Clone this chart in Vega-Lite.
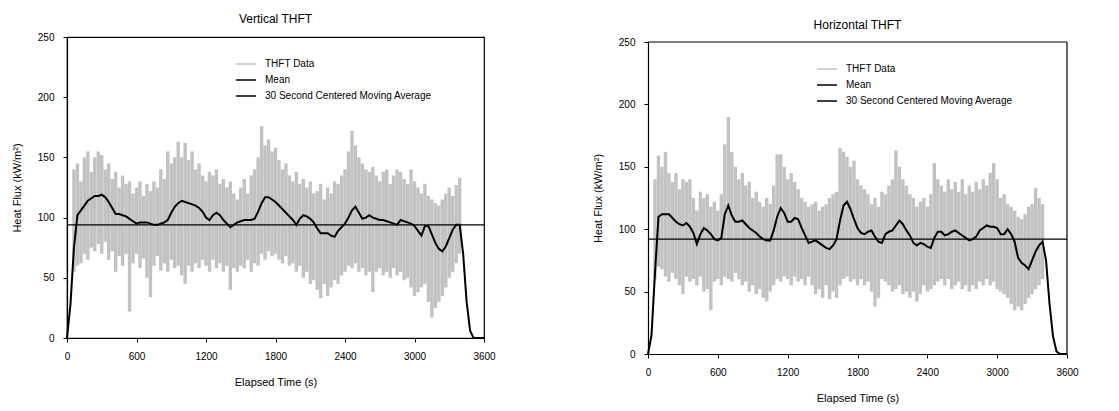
{
  "$schema": "https://vega.github.io/schema/vega-lite/v6.json",
  "background": "white",
  "padding": {"left": 10, "top": 12, "right": 5, "bottom": 5},
  "spacing": 96,
  "config": {
    "font": "Liberation Sans",
    "view": {"stroke": "black", "strokeWidth": 1.2},
    "axis": {"grid": false, "domainColor": "black", "domainWidth": 1.2, "tickColor": "black", "tickSize": 4, "labelColor": "black", "labelFontSize": 10, "titleColor": "black", "titleFontSize": 11, "titleFontWeight": "normal", "labelFlush": false, "labelOverlap": false},
    "axisX": {"labelPadding": 9, "titlePadding": 15, "format": "d"},
    "axisY": {"labelPadding": 9, "titlePadding": 15},
    "title": {"fontSize": 12, "fontWeight": "normal", "color": "black", "offset": 6},
    "legend": {"orient": "none", "legendX": 168, "legendY": 16, "title": null, "symbolType": "stroke", "symbolSize": 400, "symbolStrokeWidth": 1.5, "labelFontSize": 10, "labelColor": "black", "rowPadding": -5, "labelOffset": 8, "labelLimit": 0}
  },
  "resolve": {"scale": {"color": "independent"}, "legend": {"color": "independent"}},
  "hconcat": [
    {
      "title": {"text": "Vertical THFT"},
      "width": 417,
      "height": 301,
      "layer": [
        {
          "data": {"values": [
            {"t":0,"ma":0},{"t":30,"ma":28},
            {"t":60,"lo":55,"hi":140,"ma":75},{"t":90,"lo":60,"hi":145,"ma":102},{"t":120,"lo":62,"hi":130,"ma":106},{"t":150,"lo":70,"hi":150,"ma":110},{"t":180,"lo":65,"hi":155,"ma":114},{"t":210,"lo":75,"hi":138,"ma":116},{"t":240,"lo":72,"hi":150,"ma":118},{"t":270,"lo":78,"hi":155,"ma":118},{"t":300,"lo":70,"hi":152,"ma":119},{"t":330,"lo":80,"hi":140,"ma":117},{"t":360,"lo":65,"hi":145,"ma":113},{"t":390,"lo":72,"hi":132,"ma":108},{"t":420,"lo":55,"hi":138,"ma":103},{"t":450,"lo":68,"hi":125,"ma":103},{"t":480,"lo":60,"hi":135,"ma":102},{"t":510,"lo":70,"hi":128,"ma":101},{"t":540,"lo":22,"hi":130,"ma":99},{"t":570,"lo":62,"hi":120,"ma":97},{"t":600,"lo":70,"hi":125,"ma":95},{"t":630,"lo":58,"hi":130,"ma":96},{"t":660,"lo":66,"hi":118,"ma":96},{"t":690,"lo":50,"hi":128,"ma":96},{"t":720,"lo":34,"hi":122,"ma":95},{"t":750,"lo":60,"hi":130,"ma":94},{"t":780,"lo":68,"hi":125,"ma":94},{"t":810,"lo":56,"hi":140,"ma":95},{"t":840,"lo":62,"hi":132,"ma":96},{"t":870,"lo":55,"hi":155,"ma":98},{"t":900,"lo":65,"hi":145,"ma":104},{"t":930,"lo":58,"hi":150,"ma":109},{"t":960,"lo":60,"hi":163,"ma":112},{"t":990,"lo":52,"hi":150,"ma":114},{"t":1020,"lo":45,"hi":162,"ma":113},{"t":1050,"lo":60,"hi":148,"ma":112},{"t":1080,"lo":55,"hi":155,"ma":111},{"t":1110,"lo":62,"hi":140,"ma":110},{"t":1140,"lo":58,"hi":145,"ma":108},{"t":1170,"lo":65,"hi":135,"ma":105},{"t":1200,"lo":60,"hi":130,"ma":100},{"t":1230,"lo":55,"hi":138,"ma":98},{"t":1260,"lo":65,"hi":135,"ma":102},{"t":1290,"lo":58,"hi":140,"ma":104},{"t":1320,"lo":62,"hi":128,"ma":102},{"t":1350,"lo":55,"hi":132,"ma":98},{"t":1380,"lo":60,"hi":125,"ma":95},{"t":1410,"lo":40,"hi":130,"ma":92},{"t":1440,"lo":58,"hi":120,"ma":94},{"t":1470,"lo":55,"hi":115,"ma":96},{"t":1500,"lo":60,"hi":125,"ma":97},{"t":1530,"lo":58,"hi":132,"ma":98},{"t":1560,"lo":65,"hi":120,"ma":98},{"t":1590,"lo":55,"hi":135,"ma":98},{"t":1620,"lo":62,"hi":140,"ma":99},{"t":1650,"lo":60,"hi":150,"ma":105},{"t":1680,"lo":70,"hi":176,"ma":112},{"t":1710,"lo":65,"hi":160,"ma":117},{"t":1740,"lo":72,"hi":165,"ma":117},{"t":1770,"lo":68,"hi":155,"ma":115},{"t":1800,"lo":70,"hi":158,"ma":113},{"t":1830,"lo":65,"hi":148,"ma":110},{"t":1860,"lo":62,"hi":140,"ma":107},{"t":1890,"lo":68,"hi":145,"ma":104},{"t":1920,"lo":60,"hi":135,"ma":101},{"t":1950,"lo":62,"hi":130,"ma":98},{"t":1980,"lo":55,"hi":138,"ma":94},{"t":2010,"lo":60,"hi":128,"ma":99},{"t":2040,"lo":50,"hi":132,"ma":102},{"t":2070,"lo":55,"hi":125,"ma":101},{"t":2100,"lo":45,"hi":130,"ma":99},{"t":2130,"lo":48,"hi":120,"ma":96},{"t":2160,"lo":40,"hi":122,"ma":91},{"t":2190,"lo":33,"hi":128,"ma":87},{"t":2220,"lo":45,"hi":115,"ma":87},{"t":2250,"lo":35,"hi":125,"ma":87},{"t":2280,"lo":42,"hi":120,"ma":85},{"t":2310,"lo":48,"hi":130,"ma":84},{"t":2340,"lo":45,"hi":128,"ma":89},{"t":2370,"lo":52,"hi":135,"ma":92},{"t":2400,"lo":55,"hi":140,"ma":95},{"t":2430,"lo":60,"hi":155,"ma":100},{"t":2460,"lo":58,"hi":172,"ma":106},{"t":2490,"lo":62,"hi":160,"ma":109},{"t":2520,"lo":55,"hi":150,"ma":104},{"t":2550,"lo":58,"hi":145,"ma":99},{"t":2580,"lo":52,"hi":140,"ma":100},{"t":2610,"lo":55,"hi":138,"ma":102},{"t":2640,"lo":38,"hi":142,"ma":100},{"t":2670,"lo":55,"hi":135,"ma":99},{"t":2700,"lo":58,"hi":130,"ma":98},{"t":2730,"lo":52,"hi":138,"ma":98},{"t":2760,"lo":55,"hi":140,"ma":97},{"t":2790,"lo":50,"hi":128,"ma":96},{"t":2820,"lo":58,"hi":135,"ma":95},{"t":2850,"lo":52,"hi":140,"ma":94},{"t":2880,"lo":55,"hi":138,"ma":98},{"t":2910,"lo":48,"hi":132,"ma":97},{"t":2940,"lo":50,"hi":128,"ma":96},{"t":2970,"lo":42,"hi":140,"ma":95},{"t":3000,"lo":35,"hi":130,"ma":93},{"t":3030,"lo":38,"hi":125,"ma":89},{"t":3060,"lo":42,"hi":120,"ma":85},{"t":3090,"lo":45,"hi":128,"ma":93},{"t":3120,"lo":30,"hi":118,"ma":93},{"t":3150,"lo":17,"hi":115,"ma":86},{"t":3180,"lo":25,"hi":112,"ma":79},{"t":3210,"lo":30,"hi":110,"ma":74},{"t":3240,"lo":35,"hi":115,"ma":72},{"t":3270,"lo":42,"hi":120,"ma":76},{"t":3300,"lo":50,"hi":125,"ma":83},{"t":3330,"lo":55,"hi":118,"ma":90},{"t":3360,"lo":62,"hi":127,"ma":94},{"t":3390,"lo":70,"hi":133,"ma":94},
            {"t":3420,"ma":70},{"t":3450,"ma":30},{"t":3480,"ma":6},{"t":3510,"ma":0},{"t":3540,"ma":0},{"t":3570,"ma":0},{"t":3600,"ma":0}
          ]},
          "layer": [
            {"mark": {"type": "rule", "strokeWidth": 3.4}, "encoding": {
              "x": {"field": "t", "type": "quantitative", "title": "Elapsed Time (s)", "scale": {"domain": [0, 3600], "nice": false}, "axis": {"values": [0, 600, 1200, 1800, 2400, 3000, 3600]}},
              "y": {"field": "lo", "type": "quantitative", "title": "Heat Flux (kW/m²)", "scale": {"domain": [0, 250], "nice": false}, "axis": {"values": [0, 50, 100, 150, 200, 250]}},
              "y2": {"field": "hi"},
              "color": {"datum": "THFT Data", "type": "nominal", "scale": {"domain": ["THFT Data", "Mean", "30 Second Centered Moving Average"], "range": ["#c2c2c2", "black", "black"]}}}},
            {"mark": {"type": "line", "strokeWidth": 2}, "encoding": {
              "x": {"field": "t", "type": "quantitative"},
              "y": {"field": "ma", "type": "quantitative"},
              "color": {"datum": "30 Second Centered Moving Average", "type": "nominal"}}}
          ]
        },
        {
          "data": {"values": [{"mean": 94}]},
          "mark": {"type": "rule", "strokeWidth": 1.3},
          "encoding": {"y": {"field": "mean", "type": "quantitative"}, "color": {"datum": "Mean", "type": "nominal"}}
        }
      ]
    },
    {
      "title": {"text": "Horizontal THFT", "offset": 5},
      "width": 419,
      "height": 317,
      "view": {"stroke": null},
      "layer": [
        {
          "data": {"values": [
            {"t":0,"ma":0},{"t":30,"ma":15},
            {"t":60,"lo":60,"hi":140,"ma":65},{"t":90,"lo":70,"hi":159,"ma":110},{"t":120,"lo":68,"hi":150,"ma":112},{"t":150,"lo":62,"hi":162,"ma":112},{"t":180,"lo":58,"hi":145,"ma":112},{"t":210,"lo":65,"hi":138,"ma":109},{"t":240,"lo":60,"hi":145,"ma":106},{"t":270,"lo":55,"hi":132,"ma":104},{"t":300,"lo":48,"hi":140,"ma":103},{"t":330,"lo":62,"hi":138,"ma":105},{"t":360,"lo":58,"hi":140,"ma":102},{"t":390,"lo":60,"hi":125,"ma":97},{"t":420,"lo":55,"hi":115,"ma":88},{"t":450,"lo":62,"hi":130,"ma":96},{"t":480,"lo":50,"hi":125,"ma":101},{"t":510,"lo":52,"hi":128,"ma":99},{"t":540,"lo":35,"hi":118,"ma":96},{"t":570,"lo":58,"hi":122,"ma":92},{"t":600,"lo":60,"hi":115,"ma":91},{"t":630,"lo":55,"hi":128,"ma":93},{"t":660,"lo":62,"hi":168,"ma":112},{"t":690,"lo":60,"hi":190,"ma":119},{"t":720,"lo":58,"hi":162,"ma":111},{"t":750,"lo":65,"hi":150,"ma":106},{"t":780,"lo":60,"hi":140,"ma":106},{"t":810,"lo":55,"hi":145,"ma":107},{"t":840,"lo":58,"hi":135,"ma":104},{"t":870,"lo":50,"hi":138,"ma":101},{"t":900,"lo":55,"hi":125,"ma":99},{"t":930,"lo":48,"hi":130,"ma":97},{"t":960,"lo":52,"hi":122,"ma":94},{"t":990,"lo":45,"hi":118,"ma":92},{"t":1020,"lo":42,"hi":125,"ma":91},{"t":1050,"lo":50,"hi":120,"ma":91},{"t":1080,"lo":55,"hi":135,"ma":99},{"t":1110,"lo":60,"hi":160,"ma":110},{"t":1140,"lo":58,"hi":160,"ma":117},{"t":1170,"lo":62,"hi":150,"ma":113},{"t":1200,"lo":60,"hi":140,"ma":106},{"t":1230,"lo":55,"hi":145,"ma":106},{"t":1260,"lo":62,"hi":138,"ma":109},{"t":1290,"lo":58,"hi":132,"ma":108},{"t":1320,"lo":60,"hi":125,"ma":101},{"t":1350,"lo":55,"hi":122,"ma":95},{"t":1380,"lo":62,"hi":118,"ma":89},{"t":1410,"lo":55,"hi":120,"ma":90},{"t":1440,"lo":48,"hi":122,"ma":91},{"t":1470,"lo":52,"hi":115,"ma":89},{"t":1500,"lo":45,"hi":118,"ma":87},{"t":1530,"lo":55,"hi":120,"ma":85},{"t":1560,"lo":44,"hi":125,"ma":84},{"t":1590,"lo":50,"hi":128,"ma":87},{"t":1620,"lo":45,"hi":130,"ma":92},{"t":1650,"lo":55,"hi":165,"ma":107},{"t":1680,"lo":60,"hi":162,"ma":119},{"t":1710,"lo":62,"hi":158,"ma":122},{"t":1740,"lo":58,"hi":150,"ma":116},{"t":1770,"lo":60,"hi":155,"ma":108},{"t":1800,"lo":55,"hi":140,"ma":101},{"t":1830,"lo":60,"hi":135,"ma":97},{"t":1860,"lo":55,"hi":132,"ma":96},{"t":1890,"lo":58,"hi":128,"ma":98},{"t":1920,"lo":50,"hi":120,"ma":99},{"t":1950,"lo":38,"hi":125,"ma":94},{"t":1980,"lo":45,"hi":118,"ma":90},{"t":2010,"lo":60,"hi":130,"ma":89},{"t":2040,"lo":58,"hi":128,"ma":96},{"t":2070,"lo":55,"hi":135,"ma":98},{"t":2100,"lo":50,"hi":140,"ma":99},{"t":2130,"lo":52,"hi":163,"ma":103},{"t":2160,"lo":55,"hi":150,"ma":107},{"t":2190,"lo":48,"hi":140,"ma":104},{"t":2220,"lo":50,"hi":135,"ma":99},{"t":2250,"lo":45,"hi":128,"ma":95},{"t":2280,"lo":50,"hi":125,"ma":89},{"t":2310,"lo":42,"hi":118,"ma":87},{"t":2340,"lo":48,"hi":122,"ma":89},{"t":2370,"lo":55,"hi":125,"ma":88},{"t":2400,"lo":50,"hi":118,"ma":86},{"t":2430,"lo":52,"hi":128,"ma":85},{"t":2460,"lo":55,"hi":153,"ma":93},{"t":2490,"lo":58,"hi":140,"ma":98},{"t":2520,"lo":60,"hi":135,"ma":98},{"t":2550,"lo":55,"hi":130,"ma":95},{"t":2580,"lo":60,"hi":140,"ma":96},{"t":2610,"lo":52,"hi":132,"ma":98},{"t":2640,"lo":55,"hi":138,"ma":99},{"t":2670,"lo":58,"hi":130,"ma":97},{"t":2700,"lo":52,"hi":140,"ma":95},{"t":2730,"lo":55,"hi":128,"ma":93},{"t":2760,"lo":50,"hi":135,"ma":91},{"t":2790,"lo":55,"hi":130,"ma":92},{"t":2820,"lo":52,"hi":138,"ma":94},{"t":2850,"lo":58,"hi":132,"ma":99},{"t":2880,"lo":55,"hi":140,"ma":101},{"t":2910,"lo":60,"hi":135,"ma":103},{"t":2940,"lo":55,"hi":145,"ma":102},{"t":2970,"lo":58,"hi":153,"ma":102},{"t":3000,"lo":52,"hi":140,"ma":101},{"t":3030,"lo":50,"hi":125,"ma":96},{"t":3060,"lo":48,"hi":128,"ma":96},{"t":3090,"lo":45,"hi":120,"ma":100},{"t":3120,"lo":40,"hi":118,"ma":96},{"t":3150,"lo":35,"hi":115,"ma":90},{"t":3180,"lo":38,"hi":110,"ma":77},{"t":3210,"lo":35,"hi":108,"ma":73},{"t":3240,"lo":40,"hi":112,"ma":71},{"t":3270,"lo":45,"hi":118,"ma":68},{"t":3300,"lo":48,"hi":120,"ma":75},{"t":3330,"lo":52,"hi":133,"ma":82},{"t":3360,"lo":55,"hi":125,"ma":87},{"t":3390,"lo":60,"hi":120,"ma":90},
            {"t":3420,"ma":75},{"t":3450,"ma":40},{"t":3480,"ma":14},{"t":3510,"ma":2},{"t":3540,"ma":0},{"t":3570,"ma":0},{"t":3600,"ma":0}
          ]},
          "layer": [
            {"mark": {"type": "rule", "strokeWidth": 3.4}, "encoding": {
              "x": {"field": "t", "type": "quantitative", "title": "Elapsed Time (s)", "scale": {"domain": [0, 3600], "nice": false}, "axis": {"values": [0, 600, 1200, 1800, 2400, 3000, 3600]}},
              "y": {"field": "lo", "type": "quantitative", "title": "Heat Flux (kW/m²)", "scale": {"domain": [0, 250], "range": [317, 5], "nice": false}, "axis": {"values": [0, 50, 100, 150, 200, 250]}},
              "y2": {"field": "hi"},
              "color": {"datum": "THFT Data", "type": "nominal", "scale": {"domain": ["THFT Data", "Mean", "30 Second Centered Moving Average"], "range": ["#c2c2c2", "black", "black"]}, "legend": {"legendY": 21}}}},
            {"mark": {"type": "line", "strokeWidth": 2}, "encoding": {
              "x": {"field": "t", "type": "quantitative"},
              "y": {"field": "ma", "type": "quantitative"},
              "color": {"datum": "30 Second Centered Moving Average", "type": "nominal"}}}
          ]
        },
        {
          "data": {"values": [{"mean": 92}]},
          "mark": {"type": "rule", "strokeWidth": 1.3},
          "encoding": {"y": {"field": "mean", "type": "quantitative"}, "color": {"datum": "Mean", "type": "nominal"}}
        },
        {
          "data": {"values": [{"top": 250, "right": 3600, "bottom": 0}]},
          "layer": [
            {"mark": {"type": "rule", "color": "black", "strokeWidth": 1.2}, "encoding": {"y": {"field": "top", "type": "quantitative"}}},
            {"mark": {"type": "rule", "color": "black", "strokeWidth": 1.2}, "encoding": {"x": {"field": "right", "type": "quantitative"}, "y": {"field": "bottom", "type": "quantitative"}, "y2": {"field": "top"}}}
          ]
        }
      ]
    }
  ]
}
